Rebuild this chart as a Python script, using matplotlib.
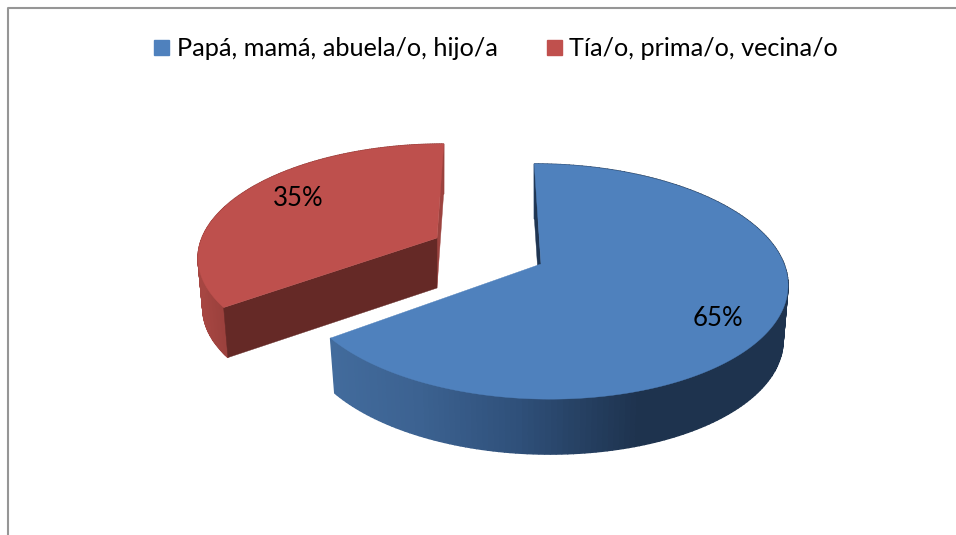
import numpy as np
import matplotlib
matplotlib.use("Agg")
import matplotlib.pyplot as plt
from matplotlib.lines import Line2D
from matplotlib.patches import Polygon

categories = ["Papá, mamá, abuela/o, hijo/a", "Tía/o, prima/o, vecina/o"]
shares = [65, 35]

plt.rcParams['font.family'] = ['Lato', 'DejaVu Sans']

fig = plt.figure(figsize=(9.56, 5.35), dpi=100)
ax = fig.add_axes([0, 0, 1, 1])
ax.set_xlim(0, 956)
ax.set_ylim(535, 0)
ax.axis('off')

# perspective of the pie plane
K = 0.149
VX = 489


def project(theta, cx, cy, rx, ry):
    u = np.sin(theta)
    v = np.cos(theta)
    w = 1 + K * v
    x = cx + rx * u / w + (cx - VX) * (1 / w - 1)
    y = cy - ry * v / w
    return x, y


def lower(x, y, cx, depth):
    return cx + (x - cx) * 0.98, y + depth


def wall_color(x, xs, cols):
    return tuple(np.interp(x, xs, [c[i] for c in cols]) / 255 for i in range(3))


def draw_slice(a0, a1, cx, cy, rx, ry, depth, top, side, cut, xs, cols):
    th = np.linspace(a0, a1, 200)
    x, y = project(th, cx, cy, rx, ry)
    xb, yb = lower(x, y, cx, depth)
    # outer wall, one thin strip at a time for the shading
    for i in range(len(th) - 1):
        pts = [(x[i], y[i]), (x[i + 1], y[i + 1]), (xb[i + 1], yb[i + 1]), (xb[i], yb[i])]
        c = wall_color(x[i], xs, cols)
        ax.add_patch(Polygon(pts, closed=True, fc=c, ec=c, lw=1.0, zorder=2))
    # radial face at 12 o'clock, a thin sliver on both slices
    j = 0 if abs(np.sin(a0)) < 1e-6 else -1
    ax.add_patch(Polygon([(x[j], y[j]), (xb[j], yb[j]), (cx, cy + depth), (cx, cy)],
                         closed=True, fc=side, ec=side, lw=0.3, zorder=3))
    # big radial face, only the pulled out slice shows it
    if cut is not None:
        ax.add_patch(Polygon([(x[0], y[0]), (cx, cy), (cx, cy + depth), (xb[0], yb[0])],
                             closed=True, fc=cut, ec=cut, lw=0.3, zorder=4))
    pts = [(cx, cy)] + list(zip(x, y))
    ax.add_patch(Polygon(pts, closed=True, fc=top, ec=top, lw=0.3, zorder=5))


ang = np.cumsum([0] + shares) / 100 * 2 * np.pi

# red slice, pulled out
draw_slice(ang[1], ang[2], 437, 238, 235, 108, 50, '#BE504D', '#9C433F', '#652926',
           [200, 235], [(166, 70, 66), (150, 62, 58)])
# blue slice
draw_slice(ang[0], ang[1], 541, 264, 243, 115, 55, '#4F81BD', '#1F3552', None,
           [333, 420, 520, 640, 790],
           [(66, 107, 156), (60, 98, 145), (47, 80, 122), (30, 51, 78), (30, 51, 78)])

ax.text(298, 199, f"{shares[1]}%", fontsize=18.5, color='black', ha='center', va='center', zorder=6)
ax.text(718, 319, f"{shares[0]}%", fontsize=18.5, color='black', ha='center', va='center', zorder=6)

# frame, only top and left are in the crop
ax.add_line(Line2D([8.5, 8.5, 956], [535, 7.5, 7.5], color='#969696', lw=1.5, zorder=1))

handles = [Line2D([], [], ls='none', marker='s', ms=10.8, mfc=c, mec=c)
           for c in ['#4F81BD', '#C0504D']]
fig.legend(handles, categories, loc='center', bbox_to_anchor=(494.5 / 956, 1 - 48 / 535),
           ncols=2, frameon=False, fontsize=18.2, handlelength=0.8, handletextpad=0.2,
           columnspacing=1.83, labelcolor='black')

fig.savefig("out.png", dpi=100)
